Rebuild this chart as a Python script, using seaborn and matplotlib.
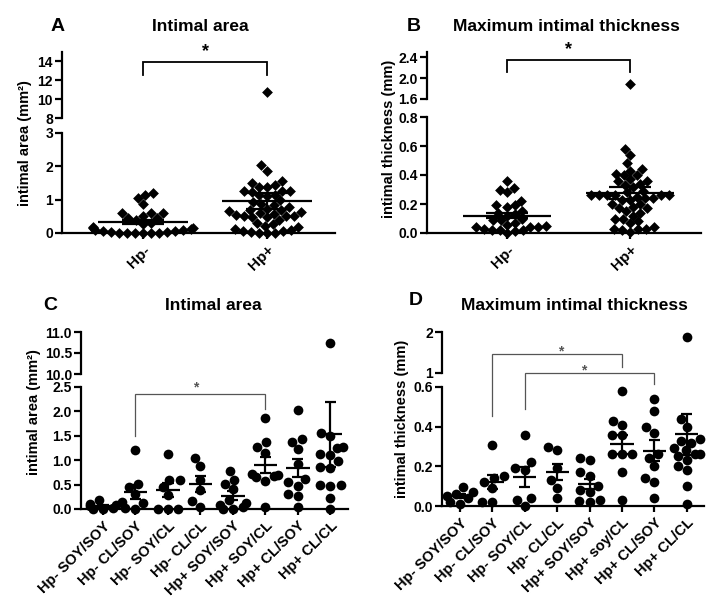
import numpy as np
import pandas as pd
import matplotlib
matplotlib.use("Agg")
import matplotlib.pyplot as plt
from matplotlib.ticker import FormatStrFormatter
import seaborn as sns

# group names
groups_c = ["Hp- SOY/SOY", "Hp- CL/SOY", "Hp- SOY/CL", "Hp- CL/CL",
            "Hp+ SOY/SOY", "Hp+ SOY/CL", "Hp+ CL/SOY", "Hp+ CL/CL"]
groups_d = ["Hp- SOY/SOY", "Hp- CL/SOY", "Hp- SOY/CL", "Hp- CL/CL",
            "Hp+ SOY/SOY", "Hp+ soy/CL", "Hp+ CL/SOY", "Hp+ CL/CL"]
pooled = ["Hp-", "Hp+"]

# intimal area (mm2)
area_hpn_soy_soy = [0.18, 0.10, 0.08, 0.06, 0.03, 0.01, 0.00]
area_hpn_cl_soy = [1.20, 0.52, 0.45, 0.30, 0.15, 0.13, 0.02, 0.00]
area_hpn_soy_cl = [1.13, 0.60, 0.60, 0.45, 0.28, 0.00, 0.00, 0.00]
area_hpn_cl_cl = [1.05, 0.88, 0.60, 0.38, 0.16, 0.05]
area_hpp_soy_soy = [0.78, 0.60, 0.52, 0.40, 0.18, 0.12, 0.08, 0.04, 0.01, 0.00]
area_hpp_soy_cl = [1.87, 1.37, 1.27, 1.15, 0.72, 0.70, 0.68, 0.65, 0.58, 0.05]
area_hpp_cl_soy = [2.03, 1.43, 1.38, 1.22, 0.93, 0.62, 0.55, 0.48, 0.30, 0.26, 0.05]
area_hpp_cl_cl = [10.75, 1.55, 1.50, 1.27, 1.25, 1.13, 1.10, 0.98, 0.87, 0.85,
                  0.50, 0.50, 0.48, 0.22, 0.00]

# maximum intimal thickness (mm)
thick_hpn_soy_soy = [0.095, 0.070, 0.058, 0.050, 0.040, 0.020, 0.012]
thick_hpn_cl_soy = [0.31, 0.15, 0.14, 0.12, 0.09, 0.02, 0.02]
thick_hpn_soy_cl = [0.36, 0.22, 0.19, 0.18, 0.04, 0.03, 0.00]
thick_hpn_cl_cl = [0.30, 0.28, 0.19, 0.13, 0.09, 0.04]
thick_hpp_soy_soy = [0.24, 0.23, 0.17, 0.15, 0.10, 0.08, 0.07, 0.03, 0.025, 0.02]
thick_hpp_soy_cl = [0.58, 0.43, 0.41, 0.36, 0.36, 0.26, 0.26, 0.26, 0.17, 0.03]
thick_hpp_cl_soy = [0.54, 0.48, 0.40, 0.37, 0.26, 0.24, 0.20, 0.14, 0.12, 0.04]
thick_hpp_cl_cl = [1.88, 0.44, 0.40, 0.34, 0.33, 0.32, 0.29, 0.28, 0.26, 0.26,
                   0.25, 0.23, 0.20, 0.18, 0.10, 0.01]

area_sets = [area_hpn_soy_soy, area_hpn_cl_soy, area_hpn_soy_cl, area_hpn_cl_cl,
             area_hpp_soy_soy, area_hpp_soy_cl, area_hpp_cl_soy, area_hpp_cl_cl]
thick_sets = [thick_hpn_soy_soy, thick_hpn_cl_soy, thick_hpn_soy_cl, thick_hpn_cl_cl,
              thick_hpp_soy_soy, thick_hpp_soy_cl, thick_hpp_cl_soy, thick_hpp_cl_cl]


def to_frame(names, sets):
    rows = [(n, v) for n, s in zip(names, sets) for v in s]
    return pd.DataFrame(rows, columns=["group", "value"])


df_c = to_frame(groups_c, area_sets)
df_d = to_frame(groups_d, thick_sets)
# panels A and B pool the four diets of each Hp status
df_a = to_frame(pooled, [sum(area_sets[:4], []), sum(area_sets[4:], [])])
df_b = to_frame(pooled, [sum(thick_sets[:4], []), sum(thick_sets[4:], [])])

plt.rcParams["font.family"] = ["Liberation Sans", "DejaVu Sans"]
plt.rcParams["font.weight"] = "bold"

W, H = 712, 606
fig = plt.figure(figsize=(W / 100, H / 100), dpi=100)


def box(l, r, t, b):
    return [l / W, 1 - b / H, (r - l) / W, (b - t) / H]


def panel(df, order, lo_px, hi_px, xlim, lo_lim, hi_lim, lo_ticks, hi_ticks,
          lo_fmt, hi_fmt, marker, msize, tick_fs, xlab_fs):
    ax_lo = fig.add_axes(box(*lo_px))
    ax_hi = fig.add_axes(box(*hi_px))
    lo = df[df.value <= lo_lim[1]]
    hi = df[df.value >= hi_lim[0]]
    sns.swarmplot(data=lo, x="group", y="value", order=order, ax=ax_lo, color="black",
                  marker=marker, size=msize, linewidth=0, clip_on=False, zorder=3)
    sns.swarmplot(data=hi, x="group", y="value", order=order, ax=ax_hi, color="black",
                  marker=marker, size=msize, linewidth=0, clip_on=False, zorder=3)

    stats = df.groupby("group")["value"].agg(["mean", "sem"]).reindex(order)
    xs = np.arange(len(order))
    m, s = stats["mean"].values, stats["sem"].values
    ax_lo.hlines(m, xs - 0.36, xs + 0.36, color="black", lw=1.6, zorder=4)
    ax_lo.vlines(xs, m - s, m + s, color="black", lw=1.6, zorder=4)
    ax_lo.hlines(m + s, xs - 0.17, xs + 0.17, color="black", lw=1.6, zorder=4)
    ax_lo.hlines(m - s, xs - 0.17, xs + 0.17, color="black", lw=1.6, zorder=4)

    for ax in (ax_lo, ax_hi):
        ax.set_xlim(*xlim)
        ax.set_xlabel("")
        ax.set_ylabel("")
        ax.set_facecolor("none")
        ax.spines[["top", "right"]].set_visible(False)
        ax.spines["left"].set_linewidth(1.6)
        ax.tick_params(axis="y", length=5, width=1.6, labelsize=tick_fs, pad=1.5)
    ax_hi.spines["bottom"].set_visible(False)
    ax_hi.tick_params(axis="x", bottom=False, labelbottom=False)
    ax_lo.spines["bottom"].set_linewidth(1.6)
    ax_lo.set_ylim(*lo_lim)
    ax_hi.set_ylim(*hi_lim)
    ax_lo.set_yticks(lo_ticks)
    ax_hi.set_yticks(hi_ticks)
    ax_lo.yaxis.set_major_formatter(FormatStrFormatter(lo_fmt))
    ax_hi.yaxis.set_major_formatter(FormatStrFormatter(hi_fmt))
    ax_lo.set_xticks(xs)
    ax_lo.set_xticklabels(order, rotation=45, ha="right", rotation_mode="anchor",
                          fontsize=xlab_fs)
    ax_lo.tick_params(axis="x", length=4, width=1.6, pad=3)
    return ax_lo, ax_hi


def bracket(ax, x0, x1, y, y0, y1, star_x, star_y, color, lw, star_fs):
    ax.plot([x0, x0, x1, x1], [y0, y, y, y1], color=color, lw=lw, clip_on=False,
            solid_joinstyle="miter")
    ax.text(star_x, star_y, "*", ha="center", va="center", fontsize=star_fs,
            color=color, clip_on=False)


def label(x, y, s, fs, **kw):
    fig.text(x / W, 1 - y / H, s, fontsize=fs, fontweight="bold", **kw)


# A
a_lo, a_hi = panel(df_a, pooled, (62, 335, 133, 233), (62, 335, 52, 118),
                   (-0.653, 1.548), (0, 3), (8, 14.95), [0, 1, 2, 3], [8, 10, 12, 14],
                   "%d", "%d", "D", 5.5, 10, 11)
bracket(a_hi, 0, 1, 13.9, 12.5, 12.5, 0.5, 15.0, "black", 1.3, 13)

# B
b_lo, b_hi = panel(df_b, pooled, (427, 701, 117, 233), (427, 701, 52, 99),
                   (-0.65, 1.577), (0, 0.8), (1.6, 2.5), [0, 0.2, 0.4, 0.6, 0.8],
                   [1.6, 2.0, 2.4], "%.1f", "%.1f", "D", 5.5, 10, 11)
bracket(b_hi, 0, 1, 2.34, 2.11, 2.11, 0.5, 2.54, "black", 1.3, 13)

# C
c_lo, c_hi = panel(df_c, groups_c, (81, 348, 387, 509), (81, 348, 332, 374),
                   (-0.677, 7.54), (0, 2.5), (10, 11), [0, 0.5, 1, 1.5, 2, 2.5],
                   [10, 10.5, 11], "%.1f", "%.1f", "o", 7, 10, 10.5)
bracket(c_lo, 1, 5, 2.36, 1.5, 2.05, 2.85, 2.5, "#555555", 0.9, 10)

# D
d_lo, d_hi = panel(df_d, groups_d, (442, 704, 387, 506), (442, 704, 332, 373),
                   (-0.556, 7.53), (0, 0.6), (1, 2), [0, 0.2, 0.4, 0.6], [1, 2],
                   "%.1f", "%d", "o", 7, 10, 10.5)
bracket(d_lo, 1, 5, 0.767, 0.454, 0.702, 3.12, 0.78, "#555555", 0.9, 10)
bracket(d_lo, 2, 6, 0.669, 0.489, 0.614, 3.83, 0.685, "#555555", 0.9, 10)

# panel letters and titles
label(58, 31, "A", 14, ha="center", va="baseline")
label(200, 31, "Intimal area", 12.5, ha="center", va="baseline")
label(414, 31, "B", 14, ha="center", va="baseline")
label(566, 31, "Maximum intimal thickness", 12.5, ha="center", va="baseline")
label(50, 310, "C", 14, ha="center", va="baseline")
label(213, 310, "Intimal area", 12.5, ha="center", va="baseline")
label(416, 305, "D", 14, ha="center", va="baseline")
label(574, 310, "Maximum intimal thickness", 12.5, ha="center", va="baseline")

# y axis labels
label(25, 143, "intimal area (mm²)", 10.5, ha="center", va="center", rotation=90)
label(389, 139, "intimal thickness (mm)", 10.5, ha="center", va="center", rotation=90)
label(34, 412, "intimal area (mm²)", 10.5, ha="center", va="center", rotation=90)
label(402, 419, "intimal thickness (mm)", 10.5, ha="center", va="center", rotation=90)

fig.savefig("out.png", dpi=100)
